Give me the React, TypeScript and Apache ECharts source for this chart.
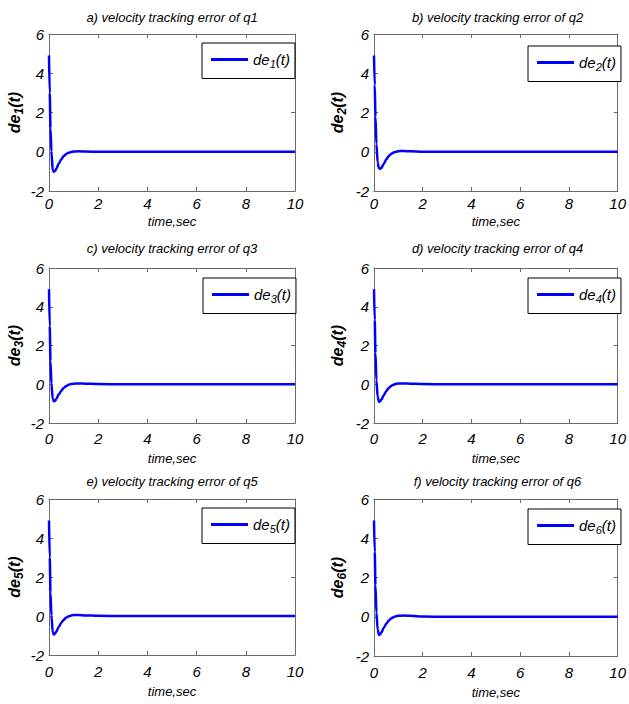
import React, { useEffect, useRef } from 'react';
import * as echarts from 'echarts';

// time samples (sec)
const time = [0, 0.03, 0.06, 0.1, 0.15, 0.2, 0.25, 0.3, 0.4, 0.5, 0.6, 0.7, 0.8, 0.9, 1.0, 1.2, 1.5, 2, 3, 4, 5, 6, 7, 8, 9, 10];

// velocity tracking errors
const de1 = [4.9, 3.0, 1.2, 0.0, -0.95, -1.02, -0.97, -0.85, -0.6, -0.38, -0.22, -0.11, -0.05, -0.01, 0.01, 0.02, 0.01, 0.0, 0, 0, 0, 0, 0, 0, 0, 0];
const de2 = [4.9, 3.4, 1.8, 0.4, -0.55, -0.82, -0.87, -0.83, -0.62, -0.4, -0.23, -0.11, -0.04, 0.0, 0.03, 0.04, 0.02, 0.0, 0, 0, 0, 0, 0, 0, 0, 0];
const de3 = [4.9, 3.0, 1.2, 0.0, -0.75, -0.88, -0.85, -0.75, -0.52, -0.33, -0.19, -0.09, -0.03, 0.01, 0.03, 0.04, 0.03, 0.01, 0, 0, 0, 0, 0, 0, 0, 0];
const de4 = [4.9, 3.3, 1.6, 0.2, -0.65, -0.9, -0.88, -0.8, -0.57, -0.36, -0.2, -0.09, -0.02, 0.02, 0.04, 0.04, 0.03, 0.01, 0, 0, 0, 0, 0, 0, 0, 0];
const de5 = [4.9, 3.0, 1.2, 0.0, -0.82, -0.95, -0.9, -0.8, -0.55, -0.34, -0.19, -0.08, -0.01, 0.03, 0.05, 0.05, 0.03, 0.01, 0, 0, 0, 0, 0, 0, 0, 0];
const de6 = [4.9, 3.3, 1.6, 0.2, -0.65, -0.92, -0.9, -0.8, -0.57, -0.36, -0.2, -0.09, -0.02, 0.03, 0.05, 0.06, 0.05, 0.01, 0, 0, 0, 0, 0, 0, 0, 0];

const seriesValues = [de1, de2, de3, de4, de5, de6];
const seriesNames = ['de1(t)', 'de2(t)', 'de3(t)', 'de4(t)', 'de5(t)', 'de6(t)'];
const subscripts = ['1', '2', '3', '4', '5', '6'];
const panelTitles = [
  'a) velocity tracking error of q1',
  'b) velocity tracking error of q2',
  'c) velocity tracking error of q3',
  'd) velocity tracking error of q4',
  'e) velocity tracking error of q5',
  'f) velocity tracking error of q6',
];
const xAxisName = 'time,sec';
const xMin = 0, xMax = 10, xStep = 2;
const yMin = -2, yMax = 6, yStep = 2;

const FONT = "'Liberation Sans', Arial, sans-serif";
const AXIS_COLOR = '#6a6a6a';

// layout per panel: grid box, legend box, label offsets
const layout = [
  { left: 49, top: 34, width: 246, height: 157, legL: 202, legT: 43, titleY: 11, lm: 5, ng: 24, yng: 24 },
  { left: 374, top: 34, width: 247, height: 157, legL: 528, legT: 46, titleY: 11, lm: 5, ng: 24, yng: 26 },
  { left: 49, top: 268, width: 246, height: 155, legL: 203, legT: 278, titleY: 242, lm: 8, ng: 29, yng: 24 },
  { left: 374, top: 268, width: 247, height: 155, legL: 528, legT: 278, titleY: 242, lm: 8, ng: 29, yng: 26 },
  { left: 49, top: 499, width: 246, height: 156, legL: 202, legT: 508, titleY: 475, lm: 9, ng: 30, yng: 24 },
  { left: 374, top: 499, width: 247, height: 157, legL: 528, legT: 509, titleY: 475, lm: 9, ng: 30, yng: 26 },
];

export default function App() {
  const ref = useRef<HTMLDivElement>(null);
  useEffect(() => {
    if (!ref.current) return;
    const chart = echarts.init(ref.current, null, { renderer: 'svg' });
    const grid: any[] = [];
    const xAxis: any[] = [];
    const yAxis: any[] = [];
    const series: any[] = [];
    const legend: any[] = [];
    const title: any[] = [];
    const axisLine = { show: true, onZero: false, lineStyle: { color: AXIS_COLOR, width: 1 } };
    const axisTick = { show: true, inside: true, length: 4, lineStyle: { color: AXIS_COLOR } };
    const tickLabel = { fontFamily: FONT, fontStyle: 'italic', fontSize: 15, color: '#000' };

    layout.forEach((L, i) => {
      grid.push({ left: L.left, top: L.top, width: L.width, height: L.height, containLabel: false });
      title.push({
        text: panelTitles[i],
        left: L.left + L.width / 2,
        top: L.titleY,
        textAlign: 'center',
        padding: 0,
        textStyle: { fontFamily: FONT, fontStyle: 'italic', fontWeight: 'normal', fontSize: 13, color: '#000' },
      });
      xAxis.push({
        type: 'value', gridIndex: i, position: 'bottom', min: xMin, max: xMax, interval: xStep,
        axisLine, axisTick, splitLine: { show: false },
        axisLabel: { ...tickLabel, margin: L.lm },
        name: xAxisName, nameLocation: 'middle', nameGap: L.ng,
        nameTextStyle: { fontFamily: FONT, fontStyle: 'italic', fontSize: 13, color: '#000' },
      });
      xAxis.push({
        type: 'value', gridIndex: i, position: 'top', min: xMin, max: xMax, interval: xStep,
        axisLine, axisTick, splitLine: { show: false }, axisLabel: { show: false },
      });
      yAxis.push({
        type: 'value', gridIndex: i, position: 'left', min: yMin, max: yMax, interval: yStep,
        axisLine, axisTick, splitLine: { show: false },
        axisLabel: { ...tickLabel, margin: 5 },
        name: `{a|de}{s|${subscripts[i]}}{a|(t)}`,
        nameLocation: 'middle', nameGap: L.yng,
        nameTextStyle: {
          rich: {
            a: { fontFamily: FONT, fontStyle: 'italic', fontWeight: 'bold', fontSize: 16, color: '#000' },
            s: { fontFamily: FONT, fontStyle: 'italic', fontWeight: 'bold', fontSize: 12, color: '#000', padding: [9, 0, 0, 0] },
          },
        },
      });
      yAxis.push({
        type: 'value', gridIndex: i, position: 'right', min: yMin, max: yMax, interval: yStep,
        axisLine, axisTick, splitLine: { show: false }, axisLabel: { show: false },
      });
      series.push({
        name: seriesNames[i],
        type: 'line',
        xAxisIndex: 2 * i,
        yAxisIndex: 2 * i,
        data: time.map((t, k) => [t, seriesValues[i][k]]),
        showSymbol: false,
        symbol: 'none',
        smooth: 0.3,
        smoothMonotone: 'x',
        lineStyle: { color: '#0000ff', width: 2.5 },
        itemStyle: { color: '#0000ff' },
      });
      legend.push({
        data: [{ name: seriesNames[i], icon: 'rect' }],
        left: L.legL,
        top: L.legT,
        orient: 'vertical',
        padding: [9, 5, 9, 9],
        itemWidth: 37,
        itemHeight: 3,
        borderColor: '#000',
        borderWidth: 1,
        backgroundColor: '#fff',
        selectedMode: false,
        itemStyle: { color: '#0000ff' },
        formatter: () => `{a|de}{s|${subscripts[i]}}{a|(t)}`,
        textStyle: {
          rich: {
            a: { fontFamily: FONT, fontStyle: 'italic', fontSize: 15, color: '#000' },
            s: { fontFamily: FONT, fontStyle: 'italic', fontSize: 11, color: '#000', padding: [9, 0, 0, 0] },
          },
        },
      });
    });

    chart.setOption({
      animation: false,
      backgroundColor: '#fff',
      title,
      grid,
      xAxis,
      yAxis,
      legend,
      series,
    });
    return () => chart.dispose();
  }, []);
  return <div ref={ref} style={{ position: 'absolute', left: 0, top: 0, width: 629, height: 704 }} />;
}
